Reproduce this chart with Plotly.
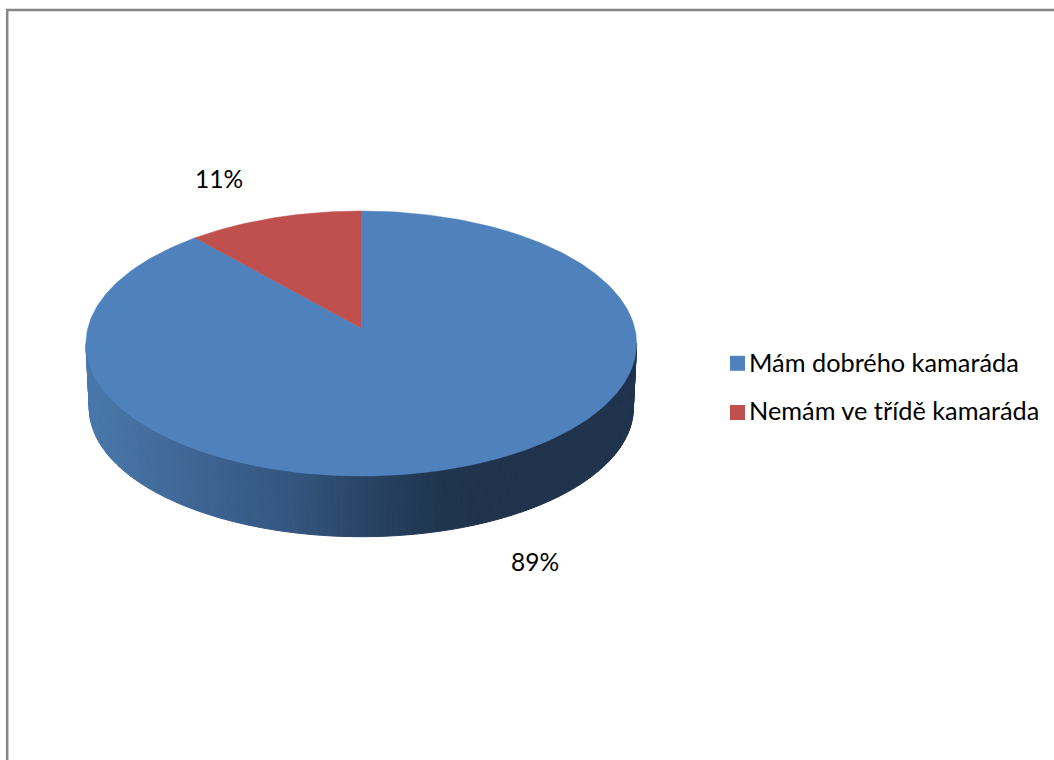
import numpy as np
import plotly.graph_objects as go

categories = ["Mám dobrého kamaráda", "Nemám ve třídě kamaráda"]
values = [89, 11]
colors = ["#4F81BD", "#C0504D"]

# geometry of the tilted pie, in figure pixels
W, H = 1054, 760
CX, CY, RX, RY = 361.3, 343.5, 275.3, 132.5
APEX_Y = 328
CXB, CYB, RXB, RYB = 361.3, 408.0, 272.0, 128.7
SQUEEZE = 0.937  # perspective compresses the far sweep
WALL_X = [86, 200, 300, 361, 440, 480, 640]
WALL_R = [74, 63, 51, 42, 32, 31, 31]
WALL_G = [120, 101, 85, 69, 54, 51, 51]
WALL_B = [172, 148, 126, 102, 80, 77, 77]

FONT = "Lato"
FS_LABEL = 24.5
FS_LEGEND = 25.3

fig = go.Figure()

# side wall, shaded strip by strip
ts = np.linspace(np.pi, 0, 141)
for t0, t1 in zip(ts[:-1], ts[1:]):
    tt = np.linspace(t0, t1, 3)
    xt = CX + RX * np.cos(tt)
    yt = CY + RY * np.sin(tt)
    xb = CXB + RXB * np.cos(tt)
    yb = CYB + RYB * np.sin(tt)
    xm = xt.mean()
    c = "rgb(%d,%d,%d)" % (np.interp(xm, WALL_X, WALL_R),
                           np.interp(xm, WALL_X, WALL_G),
                           np.interp(xm, WALL_X, WALL_B))
    fig.add_trace(go.Scatter(
        x=np.r_[xt, xb[::-1], xt[0]], y=np.r_[yt, yb[::-1], yt[0]],
        mode="lines", fill="toself", fillcolor=c, line=dict(color=c, width=1),
        hoverinfo="skip", showlegend=False))

# top face: the slices run anticlockwise from twelve o'clock, last value first
total = sum(values)
red_sweep = 2 * np.pi * values[1] / total * SQUEEZE
sweeps = [(red_sweep, 2 * np.pi), (0.0, red_sweep)]
for (a0, a1), col, cat in zip(sweeps, colors, categories):
    a = np.linspace(a0, a1, 361)
    x = CX - RX * np.sin(a)
    y = CY - RY * np.cos(a)
    fig.add_trace(go.Scatter(
        x=np.r_[CX, x, CX], y=np.r_[APEX_Y, y, APEX_Y],
        mode="lines", fill="toself", fillcolor=col, line=dict(color=col, width=0.5),
        name=cat, hoverinfo="name", showlegend=False))

# legend keys with their text
LEG_X, LEG_Y = [737.5, 737.5], [363.3, 412.5]
TEXT_X, TEXT_Y = 747, [361.5, 409.5]
for lx, ly, ty, col, cat in zip(LEG_X, LEG_Y, TEXT_Y, colors, categories):
    fig.add_trace(go.Scatter(
        x=[lx], y=[ly], mode="markers", marker=dict(symbol="square", size=15, color=col),
        hoverinfo="skip", showlegend=False))
    fig.add_annotation(x=TEXT_X, y=ty, text=cat, showarrow=False, xanchor="left",
                       font=dict(family=FONT, size=FS_LEGEND, color="#000000"))

# data labels
LABEL_POS = [(535, 561), (219, 178)]
for (lx, ly), v in zip(LABEL_POS, values):
    fig.add_annotation(x=lx, y=ly, text=f"{round(100 * v / total)}%", showarrow=False,
                       font=dict(family=FONT, size=FS_LABEL, color="#000000"))

fig.update_layout(
    width=W, height=H, margin=dict(l=0, r=0, t=0, b=0),
    paper_bgcolor="#FFFFFF", plot_bgcolor="#FFFFFF",
    xaxis=dict(range=[0, W], visible=False, fixedrange=True),
    yaxis=dict(range=[H, 0], visible=False, fixedrange=True),
    shapes=[dict(type="path", path=f"M 7.2 {H} L 7.2 10 L {W} 10",
                 line=dict(color="#868686", width=2.5), layer="above")],
)

fig.write_html("out.html", config={"displayModeBar": False},
               post_script="document.body.style.margin='0';document.documentElement.style.overflow='hidden';")
